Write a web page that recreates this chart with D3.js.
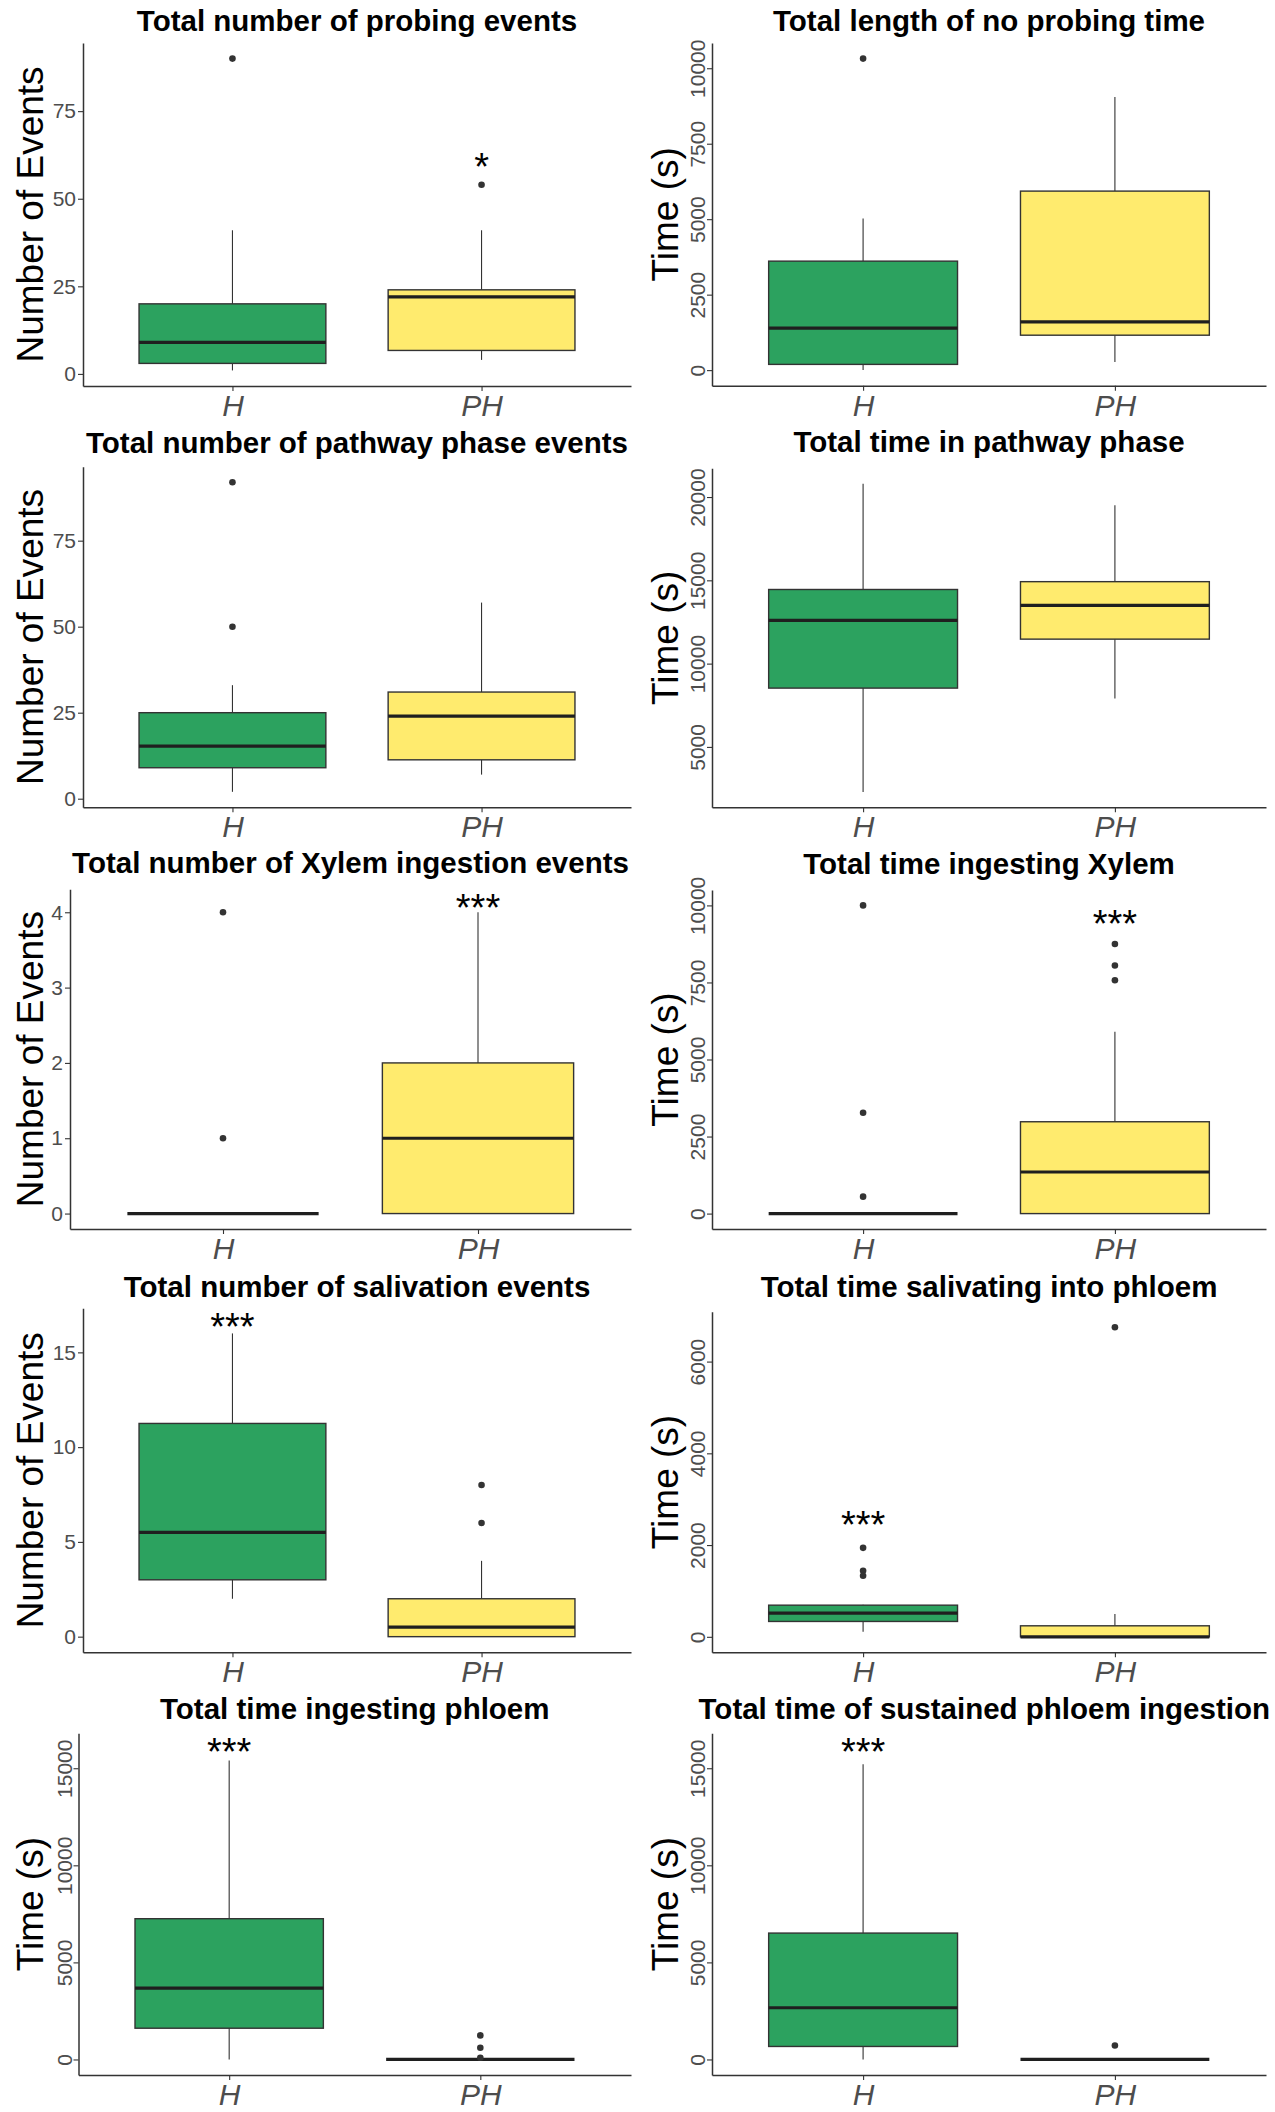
<!DOCTYPE html>
<html>
<head>
<meta charset="utf-8">
<script src="https://cdn.jsdelivr.net/npm/d3@7"></script>
<style>
  body { margin: 0; background: #fff; }
  text { font-family: "Liberation Sans", Arial, sans-serif; }
</style>
</head>
<body>
<svg class="chart"></svg>
<script>
// Data
var groups = ["H", "PH"];

var titles = [
    "Total number of probing events",
    "Total length of no probing time",
    "Total number of pathway phase events",
    "Total time in pathway phase",
    "Total number of Xylem ingestion events",
    "Total time ingesting Xylem",
    "Total number of salivation events",
    "Total time salivating into phloem",
    "Total time ingesting phloem",
    "Total time of sustained phloem ingestion"
];

var yLabels = ["Number of Events", "Time (s)", "Number of Events", "Time (s)", "Number of Events",
    "Time (s)", "Number of Events", "Time (s)", "Time (s)", "Time (s)"];

var yTicks = [
    [0, 25, 50, 75],
    [0, 2500, 5000, 7500, 10000],
    [0, 25, 50, 75],
    [5000, 10000, 15000, 20000],
    [0, 1, 2, 3, 4],
    [0, 2500, 5000, 7500, 10000],
    [0, 5, 10, 15],
    [0, 2000, 4000, 6000],
    [0, 5000, 10000, 15000],
    [0, 5000, 10000, 15000]
];

// [lower whisker, Q1, median, Q3, upper whisker]
var boxH = [
    [1, 3, 9, 20, 41],
    [0, 190, 1390, 3610, 5020],
    [2, 9, 15.3, 25, 33],
    [2300, 8530, 12600, 14450, 20800],
    [0, 0, 0, 0, 0],
    [0, 0, 0, 0, 0],
    [2, 3, 5.5, 11.25, 16],
    [110, 335, 515, 690, 700],
    [0, 1610, 3675, 7250, 15400],
    [0, 670, 2665, 6510, 15200]
];

var boxPH = [
    [4, 6.7, 22, 24, 41],
    [267, 1157, 1600, 5930, 9050],
    [7, 11.3, 24, 31, 57],
    [7900, 11470, 13500, 14920, 19500],
    [0, 0, 1, 2, 4],
    [0, 0, 1350, 2980, 5900],
    [0, 0, 0.5, 2, 4],
    [0, 0, 0, 240, 495],
    [0, 0, 0, 0, 0],
    [0, 0, 0, 0, 0]
];

var outH = [[90], [10320], [92, 50], [], [4, 1], [10000, 3270, 550], [], [1940, 1440, 1330], [], []];
var outPH = [[54], [], [], [], [], [8750, 8050, 7570], [8, 6], [6750], [1240, 600, 90], [720]];

// significance marks
var sigText = ["*", "", "", "", "***", "***", "***", "***", "***", "***"];
var sigGroup = ["PH", null, null, null, "PH", "PH", "H", "H", "H", "H"];
var sigY = [60, null, null, null, 4.1, 9500, 16.5, 2500, 16000, 16000];

// Panel layout (pixels)
var plotTop = [43, 43, 466.7, 468.3, 889.3, 890, 1308.3, 1311.7, 1733.3, 1733.3];
var plotBottom = [386, 385.7, 807.3, 807.3, 1229, 1229, 1652.3, 1652.3, 2075, 2075];
var plotLeft = [83, 712, 83, 712, 70, 712, 83, 712, 78.5, 712];
var titleBase = [31, 31, 453, 452, 873, 874, 1296.7, 1296.7, 1719.3, 1719.3];
var colRight = [631, 1266];
var colLimit = [631, 1270];
var yTitleX = [43, 678];

var fill = d3.scaleOrdinal().domain(groups).range(["#2CA25F", "#FFEB6E"]);
var ink = "#333333";

var svg = d3.select(".chart")
    .attr("width", 1275)
    .attr("height", 2112);

svg.append("rect").attr("width", 1275).attr("height", 2112).attr("fill", "#fff");

for (var i = 0; i < titles.length; i++) drawPanel(i);

function drawPanel(i) {
    var col = i % 2;
    var left = plotLeft[i], right = colRight[col];
    var top = plotTop[i], bottom = plotBottom[i];
    var rotated = yLabels[i] === "Time (s)";

    // y domain like ggplot: data range (incl. annotation) + 5% each side
    var vals = boxH[i].concat(boxPH[i], outH[i], outPH[i]);
    if (sigY[i] != null) vals.push(sigY[i]);
    var ext = d3.extent(vals), pad = (ext[1] - ext[0]) * 0.05;

    var y = d3.scaleLinear().domain([ext[0] - pad, ext[1] + pad]).range([bottom, top]);
    var x = d3.scalePoint().domain(groups).range([left, right]).padding(0.6);
    var bw = x.step() * 0.75;

    var g = svg.append("g");

    var stats = [
        { grp: "H", s: boxH[i], out: outH[i] },
        { grp: "PH", s: boxPH[i], out: outPH[i] }
    ];

    stats.forEach(function (d) {
        var cx = x(d.grp);
        // whiskers
        g.append("line")
            .attr("x1", cx).attr("x2", cx)
            .attr("y1", y(d.s[0])).attr("y2", y(d.s[1]))
            .attr("stroke", ink).attr("stroke-width", 1.1);
        g.append("line")
            .attr("x1", cx).attr("x2", cx)
            .attr("y1", y(d.s[3])).attr("y2", y(d.s[4]))
            .attr("stroke", ink).attr("stroke-width", 1.1);
        // box
        g.append("rect")
            .attr("x", cx - bw / 2)
            .attr("y", y(d.s[3]))
            .attr("width", bw)
            .attr("height", Math.max(0, y(d.s[1]) - y(d.s[3])))
            .attr("fill", fill(d.grp))
            .attr("stroke", ink)
            .attr("stroke-width", 1.4);
        // median
        g.append("line")
            .attr("x1", cx - bw / 2).attr("x2", cx + bw / 2)
            .attr("y1", y(d.s[2])).attr("y2", y(d.s[2]))
            .attr("stroke", "#1f1f1f").attr("stroke-width", 3.2);
        // outliers
        g.selectAll(null)
            .data(d.out)
            .enter().append("circle")
            .attr("cx", cx)
            .attr("cy", function (v) { return y(v); })
            .attr("r", 3.3)
            .attr("fill", ink);
    });

    // significance stars
    if (sigText[i]) {
        g.append("text")
            .attr("x", x(sigGroup[i]))
            .attr("y", y(sigY[i]))
            .attr("dy", "0.42em")
            .attr("text-anchor", "middle")
            .style("font-size", "38px")
            .attr("fill", "#000")
            .text(sigText[i]);
    }

    // y axis
    var yAxis = d3.axisLeft(y)
        .tickValues(yTicks[i])
        .tickFormat(d3.format("d"))
        .tickSize(5)
        .tickSizeOuter(0)
        .tickPadding(2);

    var ya = g.append("g")
        .attr("transform", "translate(" + left + ",0)")
        .call(yAxis);
    ya.select(".domain").attr("stroke", ink).attr("stroke-width", 1.5);
    ya.selectAll(".tick line").attr("stroke", ink).attr("stroke-width", 1.1);
    ya.selectAll(".tick text")
        .attr("fill", "#4d4d4d")
        .style("font-size", "21px");
    if (rotated) {
        ya.selectAll(".tick text")
            .attr("x", 0)
            .attr("dy", 0)
            .attr("text-anchor", "middle")
            .attr("transform", "translate(-7,0) rotate(-90)");
    }

    // x axis
    var xAxis = d3.axisBottom(x).tickSize(5).tickSizeOuter(0);
    var xa = g.append("g")
        .attr("transform", "translate(0," + bottom + ")")
        .call(xAxis);
    xa.select(".domain").attr("stroke", ink).attr("stroke-width", 1.5);
    xa.selectAll(".tick line").attr("stroke", ink).attr("stroke-width", 1.1);
    xa.selectAll(".tick text")
        .attr("y", 30)
        .attr("dy", 0)
        .attr("fill", "#4d4d4d")
        .style("font-size", "30px")
        .style("font-style", "italic");

    // y axis title
    g.append("text")
        .attr("transform", "translate(" + yTitleX[col] + "," + ((top + bottom) / 2) + ") rotate(-90)")
        .attr("text-anchor", "middle")
        .style("font-size", "37px")
        .attr("fill", "#000")
        .text(yLabels[i]);

    // panel title, centred on the panel but kept inside the column
    var t = g.append("text")
        .attr("y", titleBase[i])
        .attr("text-anchor", "middle")
        .style("font-size", "29.5px")
        .style("font-weight", "bold")
        .attr("fill", "#000")
        .text(titles[i]);
    var w = t.node().getComputedTextLength();
    var cx = (left + right) / 2;
    if (cx + w / 2 > colLimit[col]) cx = colLimit[col] - w / 2;
    t.attr("x", cx);
}
</script>
</body>
</html>
